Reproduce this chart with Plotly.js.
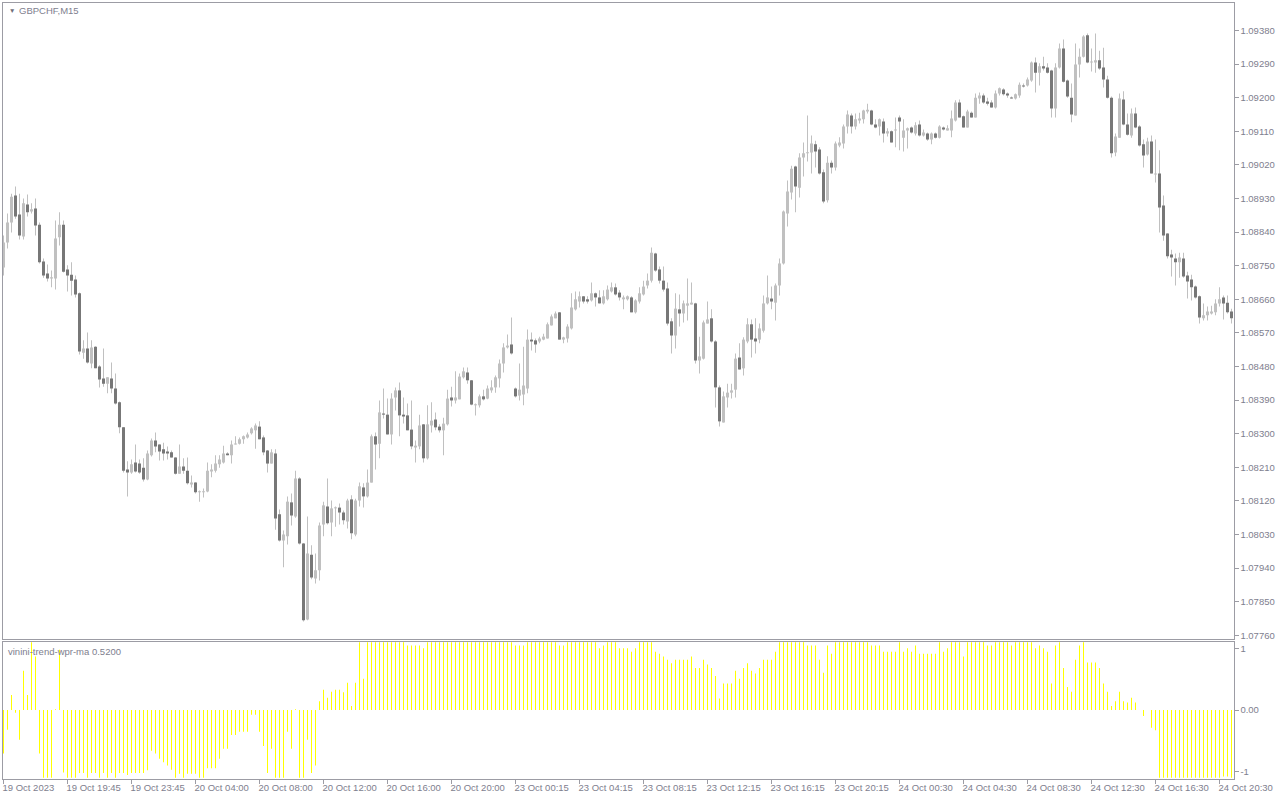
<!DOCTYPE html>
<html>
<head>
<meta charset="utf-8">
<script src="https://cdn.plot.ly/plotly-3.0.1.min.js"></script>
<style>
html,body{margin:0;padding:0;background:#fff;overflow:hidden;}
#chart{width:1280px;height:800px;}
</style>
</head>
<body>
<div id="chart"></div>
<script>
// ---- data (GBPCHF, M15) ----
const symbolTitle = "GBPCHF,M15";
const indicatorTitle = "vinini-trend-wpr-ma 0.5200";

const timeLabels = ["19 Oct 2023","19 Oct 19:45","19 Oct 23:45","20 Oct 04:00","20 Oct 08:00","20 Oct 12:00","20 Oct 16:00","20 Oct 20:00","23 Oct 00:15","23 Oct 04:15","23 Oct 08:15","23 Oct 12:15","23 Oct 16:15","23 Oct 20:15","24 Oct 00:30","24 Oct 04:30","24 Oct 08:30","24 Oct 12:30","24 Oct 16:30","24 Oct 20:30"];
const barsPerLabel = 16;

const open = [
1.08745,1.08812,1.08866,1.08938,1.08887,1.08828,1.08914,1.08895,1.08903,1.08860,
1.08761,1.08729,1.08716,1.08716,1.08826,1.08860,1.08740,1.08726,1.08713,1.08676,
1.08517,1.08528,1.08488,1.08533,1.08480,1.08448,1.08434,1.08448,1.08421,1.08384,
1.08317,1.08204,1.08196,1.08223,1.08220,1.08209,1.08177,1.08242,1.08282,1.08271,
1.08258,1.08252,1.08250,1.08236,1.08193,1.08212,1.08201,1.08164,1.08169,1.08143,
1.08143,1.08145,1.08199,1.08201,1.08218,1.08223,1.08247,1.08242,1.08271,1.08273,
1.08285,1.08290,1.08301,1.08309,1.08319,1.08290,1.08255,1.08220,1.08247,1.08084,
1.08014,1.08025,1.08116,1.08078,1.08180,1.08006,1.07802,1.07976,1.07912,1.07934,
1.08057,1.08105,1.08062,1.08100,1.08102,1.08089,1.08065,1.08124,1.08030,1.08121,
1.08156,1.08132,1.08169,1.08293,1.08273,1.08354,1.08351,1.08298,1.08397,1.08416,
1.08351,1.08349,1.08311,1.08263,1.08266,1.08325,1.08234,1.08322,1.08338,1.08319,
1.08309,1.08325,1.08397,1.08389,1.08392,1.08451,1.08464,1.08443,1.08376,1.08376,
1.08400,1.08394,1.08416,1.08424,1.08448,1.08488,1.08531,1.08539,1.08421,1.08402,
1.08405,1.08421,1.08552,1.08550,1.08547,1.08552,1.08555,1.08590,1.08609,1.08625,
1.08552,1.08555,1.08582,1.08633,1.08654,1.08668,1.08660,1.08657,1.08676,1.08665,
1.08649,1.08660,1.08681,1.08692,1.08678,1.08660,1.08660,1.08665,1.08625,1.08654,
1.08673,1.08697,1.08710,1.08783,1.08740,1.08710,1.08689,1.08601,1.08563,1.08633,
1.08622,1.08643,1.08646,1.08649,1.08496,1.08501,1.08595,1.08609,1.08547,1.08424,
1.08330,1.08397,1.08410,1.08418,1.08504,1.08475,1.08547,1.08593,1.08555,1.08552,
1.08576,1.08649,1.08662,1.08651,1.08697,1.08756,1.08890,1.08946,1.09016,1.08959,
1.09040,1.09051,1.09053,1.09075,1.09061,1.09000,1.08925,1.09026,1.09013,1.09072,
1.09077,1.09123,1.09152,1.09123,1.09139,1.09142,1.09163,1.09166,1.09128,1.09123,
1.09136,1.09104,1.09110,1.09112,1.09147,1.09093,1.09112,1.09120,1.09104,1.09128,
1.09099,1.09104,1.09088,1.09104,1.09093,1.09120,1.09112,1.09112,1.09139,1.09187,
1.09150,1.09120,1.09160,1.09147,1.09198,1.09206,1.09190,1.09187,1.09174,1.09211,
1.09222,1.09211,1.09200,1.09198,1.09206,1.09233,1.09233,1.09246,1.09294,1.09267,
1.09284,1.09281,1.09273,1.09171,1.09281,1.09332,1.09246,1.09200,1.09152,1.09289,
1.09310,1.09367,1.09294,1.09294,1.09300,1.09281,1.09249,1.09200,1.09053,1.09093,
1.09195,1.09128,1.09099,1.09158,1.09123,1.09075,1.09048,1.09083,1.08994,1.08997,
1.08911,1.08836,1.08780,1.08769,1.08759,1.08769,1.08724,1.08713,1.08694,1.08668,
1.08609,1.08617,1.08622,1.08625,1.08649,1.08665,1.08651,1.08627];

const high = [
1.08831,1.08890,1.08943,1.08962,1.08943,1.08930,1.08941,1.08917,1.08930,1.08866,
1.08769,1.08753,1.08737,1.08871,1.08893,1.08871,1.08751,1.08759,1.08724,1.08678,
1.08550,1.08571,1.08550,1.08534,1.08483,1.08528,1.08451,1.08491,1.08461,1.08386,
1.08318,1.08226,1.08231,1.08271,1.08231,1.08234,1.08255,1.08287,1.08303,1.08272,
1.08276,1.08266,1.08255,1.08237,1.08271,1.08234,1.08236,1.08188,1.08170,1.08148,
1.08153,1.08223,1.08218,1.08242,1.08242,1.08268,1.08250,1.08282,1.08293,1.08290,
1.08295,1.08303,1.08317,1.08327,1.08333,1.08295,1.08256,1.08258,1.08258,1.08097,
1.08041,1.08132,1.08140,1.08201,1.08183,1.08007,1.08078,1.08001,1.07979,1.08062,
1.08118,1.08180,1.08121,1.08105,1.08113,1.08094,1.08126,1.08135,1.08126,1.08169,
1.08167,1.08204,1.08298,1.08303,1.08389,1.08421,1.08394,1.08408,1.08424,1.08437,
1.08397,1.08381,1.08389,1.08282,1.08351,1.08326,1.08376,1.08384,1.08357,1.08325,
1.08343,1.08418,1.08426,1.08467,1.08461,1.08477,1.08477,1.08444,1.08381,1.08405,
1.08418,1.08429,1.08443,1.08456,1.08499,1.08542,1.08566,1.08611,1.08424,1.08488,
1.08533,1.08579,1.08571,1.08555,1.08560,1.08568,1.08598,1.08619,1.08627,1.08626,
1.08560,1.08593,1.08676,1.08681,1.08681,1.08669,1.08668,1.08705,1.08678,1.08684,
1.08684,1.08697,1.08705,1.08702,1.08684,1.08670,1.08670,1.08668,1.08660,1.08692,
1.08710,1.08729,1.08799,1.08785,1.08748,1.08748,1.08705,1.08609,1.08676,1.08673,
1.08657,1.08716,1.08705,1.08651,1.08560,1.08603,1.08654,1.08633,1.08550,1.08429,
1.08413,1.08434,1.08434,1.08515,1.08542,1.08558,1.08609,1.08606,1.08609,1.08595,
1.08670,1.08724,1.08694,1.08702,1.08769,1.08898,1.08978,1.09018,1.09018,1.09051,
1.09080,1.09152,1.09099,1.09085,1.09067,1.09008,1.09043,1.09032,1.09083,1.09094,
1.09128,1.09166,1.09158,1.09158,1.09160,1.09168,1.09184,1.09168,1.09142,1.09144,
1.09144,1.09118,1.09112,1.09147,1.09152,1.09142,1.09120,1.09123,1.09134,1.09139,
1.09115,1.09107,1.09107,1.09107,1.09126,1.09123,1.09126,1.09166,1.09193,1.09195,
1.09152,1.09168,1.09163,1.09211,1.09214,1.09211,1.09200,1.09193,1.09219,1.09227,
1.09225,1.09214,1.09203,1.09211,1.09241,1.09238,1.09254,1.09297,1.09308,1.09292,
1.09310,1.09292,1.09275,1.09292,1.09345,1.09356,1.09249,1.09238,1.09345,1.09332,
1.09367,1.09372,1.09332,1.09372,1.09326,1.09334,1.09259,1.09203,1.09104,1.09211,
1.09217,1.09158,1.09171,1.09174,1.09126,1.09088,1.09093,1.09099,1.09088,1.09059,
1.08938,1.08837,1.08793,1.08783,1.08785,1.08785,1.08734,1.08726,1.08697,1.08670,
1.08649,1.08641,1.08643,1.08660,1.08692,1.08670,1.08670,1.08635];

const low = [
1.08724,1.08796,1.08839,1.08876,1.08820,1.08820,1.08882,1.08890,1.08831,1.08756,
1.08718,1.08708,1.08692,1.08686,1.08804,1.08732,1.08681,1.08670,1.08665,1.08512,
1.08501,1.08488,1.08475,1.08475,1.08424,1.08426,1.08408,1.08408,1.08378,1.08301,
1.08196,1.08132,1.08193,1.08196,1.08193,1.08172,1.08175,1.08239,1.08250,1.08228,
1.08228,1.08231,1.08236,1.08191,1.08193,1.08193,1.08164,1.08156,1.08140,1.08118,
1.08129,1.08143,1.08183,1.08196,1.08209,1.08220,1.08242,1.08220,1.08271,1.08271,
1.08273,1.08287,1.08298,1.08260,1.08285,1.08242,1.08196,1.08220,1.08043,1.08011,
1.07942,1.08003,1.08054,1.08075,1.08003,1.07797,1.07800,1.07910,1.07899,1.07907,
1.08025,1.08057,1.08025,1.08051,1.08057,1.08057,1.08046,1.08017,1.08025,1.08105,
1.08102,1.08129,1.08169,1.08204,1.08234,1.08341,1.08298,1.08271,1.08362,1.08293,
1.08327,1.08309,1.08258,1.08223,1.08258,1.08223,1.08231,1.08303,1.08309,1.08303,
1.08242,1.08322,1.08373,1.08381,1.08392,1.08448,1.08434,1.08376,1.08349,1.08370,
1.08389,1.08392,1.08410,1.08410,1.08424,1.08464,1.08528,1.08512,1.08397,1.08389,
1.08376,1.08408,1.08523,1.08517,1.08542,1.08550,1.08555,1.08590,1.08609,1.08552,
1.08542,1.08544,1.08579,1.08630,1.08638,1.08649,1.08649,1.08654,1.08641,1.08649,
1.08646,1.08657,1.08678,1.08670,1.08657,1.08633,1.08657,1.08625,1.08622,1.08649,
1.08670,1.08689,1.08705,1.08734,1.08702,1.08681,1.08590,1.08515,1.08528,1.08587,
1.08598,1.08603,1.08646,1.08488,1.08461,1.08499,1.08595,1.08544,1.08370,1.08319,
1.08330,1.08370,1.08394,1.08397,1.08472,1.08456,1.08542,1.08504,1.08515,1.08542,
1.08571,1.08646,1.08633,1.08603,1.08670,1.08753,1.08855,1.08927,1.08893,1.08933,
1.08989,1.09029,1.08997,1.09013,1.08994,1.08917,1.08919,1.08997,1.09005,1.09067,
1.09064,1.09104,1.09104,1.09115,1.09131,1.09131,1.09158,1.09126,1.09118,1.09099,
1.09080,1.09096,1.09080,1.09067,1.09059,1.09056,1.09064,1.09104,1.09099,1.09096,
1.09096,1.09085,1.09075,1.09091,1.09091,1.09112,1.09112,1.09094,1.09136,1.09147,
1.09120,1.09120,1.09147,1.09147,1.09184,1.09184,1.09179,1.09174,1.09171,1.09206,
1.09206,1.09200,1.09198,1.09195,1.09200,1.09227,1.09230,1.09243,1.09214,1.09233,
1.09273,1.09265,1.09147,1.09147,1.09278,1.09241,1.09200,1.09134,1.09152,1.09254,
1.09308,1.09292,1.09270,1.09267,1.09275,1.09227,1.09198,1.09040,1.09043,1.09093,
1.09126,1.09099,1.09093,1.09118,1.09069,1.09013,1.09045,1.08997,1.08973,1.08839,
1.08817,1.08769,1.08721,1.08697,1.08718,1.08718,1.08662,1.08657,1.08662,1.08595,
1.08603,1.08603,1.08619,1.08617,1.08641,1.08606,1.08622,1.08595];

const close = [
1.08812,1.08866,1.08935,1.08882,1.08831,1.08917,1.08893,1.08901,1.08858,1.08759,
1.08724,1.08716,1.08718,1.08823,1.08860,1.08734,1.08724,1.08710,1.08673,1.08520,
1.08528,1.08491,1.08531,1.08475,1.08445,1.08434,1.08451,1.08421,1.08381,1.08317,
1.08201,1.08196,1.08218,1.08199,1.08196,1.08177,1.08247,1.08282,1.08266,1.08252,
1.08247,1.08247,1.08236,1.08193,1.08212,1.08201,1.08167,1.08169,1.08143,1.08145,
1.08146,1.08201,1.08204,1.08220,1.08231,1.08247,1.08242,1.08271,1.08273,1.08285,
1.08293,1.08298,1.08314,1.08322,1.08285,1.08250,1.08220,1.08250,1.08073,1.08014,
1.08030,1.08118,1.08081,1.08180,1.08006,1.07800,1.07979,1.07915,1.07934,1.08054,
1.08108,1.08060,1.08100,1.08102,1.08089,1.08068,1.08121,1.08033,1.08121,1.08159,
1.08132,1.08169,1.08293,1.08271,1.08357,1.08351,1.08298,1.08394,1.08416,1.08349,
1.08346,1.08309,1.08266,1.08268,1.08322,1.08234,1.08325,1.08335,1.08317,1.08309,
1.08327,1.08394,1.08389,1.08397,1.08453,1.08467,1.08443,1.08378,1.08378,1.08400,
1.08392,1.08421,1.08424,1.08451,1.08488,1.08531,1.08536,1.08515,1.08400,1.08418,
1.08429,1.08552,1.08547,1.08539,1.08555,1.08560,1.08593,1.08614,1.08622,1.08552,
1.08558,1.08587,1.08638,1.08660,1.08668,1.08654,1.08654,1.08676,1.08665,1.08649,
1.08668,1.08686,1.08692,1.08673,1.08665,1.08665,1.08668,1.08625,1.08657,1.08676,
1.08694,1.08710,1.08785,1.08737,1.08710,1.08686,1.08595,1.08563,1.08635,1.08622,
1.08649,1.08649,1.08651,1.08496,1.08507,1.08598,1.08606,1.08547,1.08424,1.08333,
1.08400,1.08410,1.08416,1.08501,1.08472,1.08552,1.08593,1.08552,1.08547,1.08582,
1.08649,1.08665,1.08654,1.08697,1.08756,1.08895,1.08949,1.09010,1.08962,1.09040,
1.09051,1.09053,1.09077,1.09056,1.08997,1.08922,1.09026,1.09013,1.09077,1.09080,
1.09123,1.09155,1.09123,1.09142,1.09144,1.09166,1.09168,1.09128,1.09120,1.09142,
1.09104,1.09110,1.09080,1.09115,1.09136,1.09112,1.09118,1.09107,1.09126,1.09099,
1.09107,1.09088,1.09104,1.09093,1.09123,1.09115,1.09118,1.09144,1.09187,1.09147,
1.09120,1.09163,1.09147,1.09200,1.09206,1.09187,1.09184,1.09174,1.09211,1.09225,
1.09209,1.09206,1.09198,1.09209,1.09235,1.09230,1.09249,1.09294,1.09267,1.09284,
1.09278,1.09267,1.09171,1.09281,1.09332,1.09243,1.09203,1.09155,1.09289,1.09310,
1.09364,1.09294,1.09297,1.09300,1.09278,1.09249,1.09200,1.09051,1.09096,1.09198,
1.09128,1.09101,1.09158,1.09120,1.09072,1.09045,1.09083,1.08997,1.08997,1.08906,
1.08831,1.08775,1.08772,1.08759,1.08772,1.08721,1.08708,1.08692,1.08665,1.08611,
1.08617,1.08627,1.08627,1.08649,1.08660,1.08649,1.08625,1.08609];

const trendWpr = [
-0.64,-0.29,0.22,-0.04,-0.44,0.58,0.22,1,0.79,-0.64,
-1,-1,-1,0.01,0.89,-0.92,-1,-1,-1,-0.93,
-0.93,-1,-0.93,-0.93,-1,-0.93,-1,-0.93,-1,-0.93,
-0.93,-0.96,-0.93,-0.93,-0.93,-0.93,-0.89,-0.6,-0.64,-0.72,
-0.77,-0.82,-0.88,-1,-0.94,-1,-0.94,-0.94,-0.94,-1,
-1,-0.86,-0.86,-0.86,-0.72,-0.57,-0.57,-0.37,-0.37,-0.32,
-0.32,-0.32,-0.07,-0.07,-0.32,-0.53,-0.93,-0.57,-1,-1,
-1,-0.32,-0.57,0.01,-1,-1,-0.44,-0.93,-0.82,0.13,
0.3,0.18,0.27,0.3,0.3,0.26,0.4,0.06,0.4,1,
0.46,1,1,1,1,1,1,1,1,1,
1,0.95,0.95,0.95,0.95,0.91,1,1,1,1,
1,1,1,1,1,1,1,1,1,1,
1,1,1,1,1,1,1,1,0.95,0.95,
0.95,1,1,1,1,1,1,1,1,0.95,
0.95,1,1,1,1,1,1,1,1,0.91,
0.95,1,1,1,0.91,0.91,0.91,0.86,0.91,1,
1,1,1,0.86,0.83,0.79,0.74,0.69,0.74,0.74,
0.74,0.74,0.79,0.62,0.62,0.74,0.67,0.62,0.5,0.17,
0.39,0.39,0.39,0.58,0.46,0.62,0.69,0.58,0.54,0.62,
0.74,0.74,0.74,0.86,1,1,1,1,1,1,
1,0.95,0.95,0.95,0.74,0.55,0.95,0.83,1,1,
1,1,1,1,1,1,1,0.95,0.95,0.95,
0.86,0.86,0.86,0.86,1,0.86,0.91,0.86,0.95,0.83,
0.83,0.83,0.83,0.83,1,0.86,0.91,1,1,1,
0.79,1,1,1,1,1,0.95,0.95,1,1,
1,1,0.95,1,1,1,1,1,0.91,0.95,
0.91,0.86,0.39,0.95,1,0.62,0.34,0.27,0.74,0.95,
1,0.7,0.7,0.7,0.62,0.39,0.27,0.06,0.13,0.27,
0.13,0.11,0.18,0.11,0,-0.09,0,-0.26,-0.3,-1,
-1,-1,-1,-1,-1,-1,-1,-1,-1,-1,
-1,-1,-1,-1,-1,-0.98,-0.98,-1];

// ---- derived ----
const n = open.length;
const idx = open.map((_, i) => i);
const bodyBase = idx.map(i => Math.min(open[i], close[i]));
const bodyLen = idx.map(i => Math.max(Math.abs(close[i] - open[i]), 0.000028));
const wickLen = idx.map(i => high[i] - low[i]);
const BULL = '#c0c0c0', BEAR = '#777777';
const bodyColor = idx.map(i => close[i] >= open[i] ? BULL : BEAR);
const tickIdx = timeLabels.map((_, k) => k * barsPerLabel);

// ---- geometry (pixels on the 1280x800 page) ----
const W = 1280, H = 800;
const fx = p => p / W, fy = p => 1 - p / H;
const LINE = '#9c9ca4', TXT = '#7e7e8e';
const FONT = 'Liberation Sans, Arial, sans-serif';

const traces = [
  {type:'bar', x: idx, base: low, y: wickLen, width: 0.25,
   marker:{color: BULL, line:{width:0}}, xaxis:'x', yaxis:'y', hoverinfo:'skip'},
  {type:'bar', x: idx, base: bodyBase, y: bodyLen, width: 0.75,
   marker:{color: bodyColor, line:{width:0}}, xaxis:'x', yaxis:'y', hoverinfo:'skip'},
  {type:'bar', x: idx, y: trendWpr, width: 0.25,
   marker:{color:'#ffff00', line:{width:0}}, xaxis:'x2', yaxis:'y2', hoverinfo:'skip'}
];

const xr = [-0.25, n - 0.5];
const layout = {
  width: W, height: H,
  margin: {l:0, r:0, t:0, b:0, pad:0},
  paper_bgcolor:'#ffffff', plot_bgcolor:'#ffffff',
  showlegend:false, barmode:'overlay',
  font:{family: FONT, size: 9.5, color: TXT},
  xaxis:{domain:[fx(2.5), fx(1233.5)], range: xr, anchor:'y',
    showticklabels:false, ticks:'', showgrid:false, zeroline:false,
    showline:true, mirror:true, linecolor: LINE, linewidth:1, automargin:false},
  yaxis:{domain:[fy(638.5), fy(2.5)], range:[1.077514, 1.09455], anchor:'x', side:'right',
    tick0:1.0776, dtick:0.0009, tickformat:'.5f', ticks:'outside', ticklen:4, tickcolor: LINE,
    tickfont:{family: FONT, size:9.5, color: TXT},
    showgrid:false, zeroline:false, showline:true, mirror:true, linecolor: LINE, linewidth:1, automargin:false},
  xaxis2:{domain:[fx(2.5), fx(1233.5)], range: xr, anchor:'y2',
    tickmode:'array', tickvals: tickIdx, ticktext: timeLabels,
    ticks:'outside', ticklen:4, tickcolor: LINE, ticklabelposition:'outside right', ticklabelshift:-2,
    tickfont:{family: FONT, size:9.5, color: TXT},
    showgrid:false, zeroline:false, showline:true, mirror:true, linecolor: LINE, linewidth:1, automargin:false},
  yaxis2:{domain:[fy(778.5), fy(641.5)], range:[-1.01, 1.01], anchor:'x2', side:'right',
    tickmode:'array', tickvals:[0.907, 0, -0.907], ticktext:['1','0.00','-1'],
    ticks:'outside', ticklen:4, tickcolor: LINE,
    tickfont:{family: FONT, size:9.5, color: TXT},
    showgrid:false, zeroline:false, showline:true, mirror:true, linecolor: LINE, linewidth:1, automargin:false},
  annotations:[
    {xref:'paper', yref:'paper', x: fx(6.5), y: fy(10.5), xanchor:'left', yanchor:'middle',
     text:'\u25BC', showarrow:false, font:{family: FONT, size:6.5, color:'#6e6e7a'}},
    {xref:'paper', yref:'paper', x: fx(16.5), y: fy(10.5), xanchor:'left', yanchor:'middle',
     text: symbolTitle, showarrow:false, font:{family: FONT, size:9.5, color: TXT}},
    {xref:'paper', yref:'paper', x: fx(6), y: fy(651), xanchor:'left', yanchor:'middle',
     text: indicatorTitle, showarrow:false, font:{family: FONT, size:9.5, color: TXT}}
  ]
};

Plotly.newPlot('chart', traces, layout, {staticPlot:true, displayModeBar:false});
</script>
</body>
</html>
